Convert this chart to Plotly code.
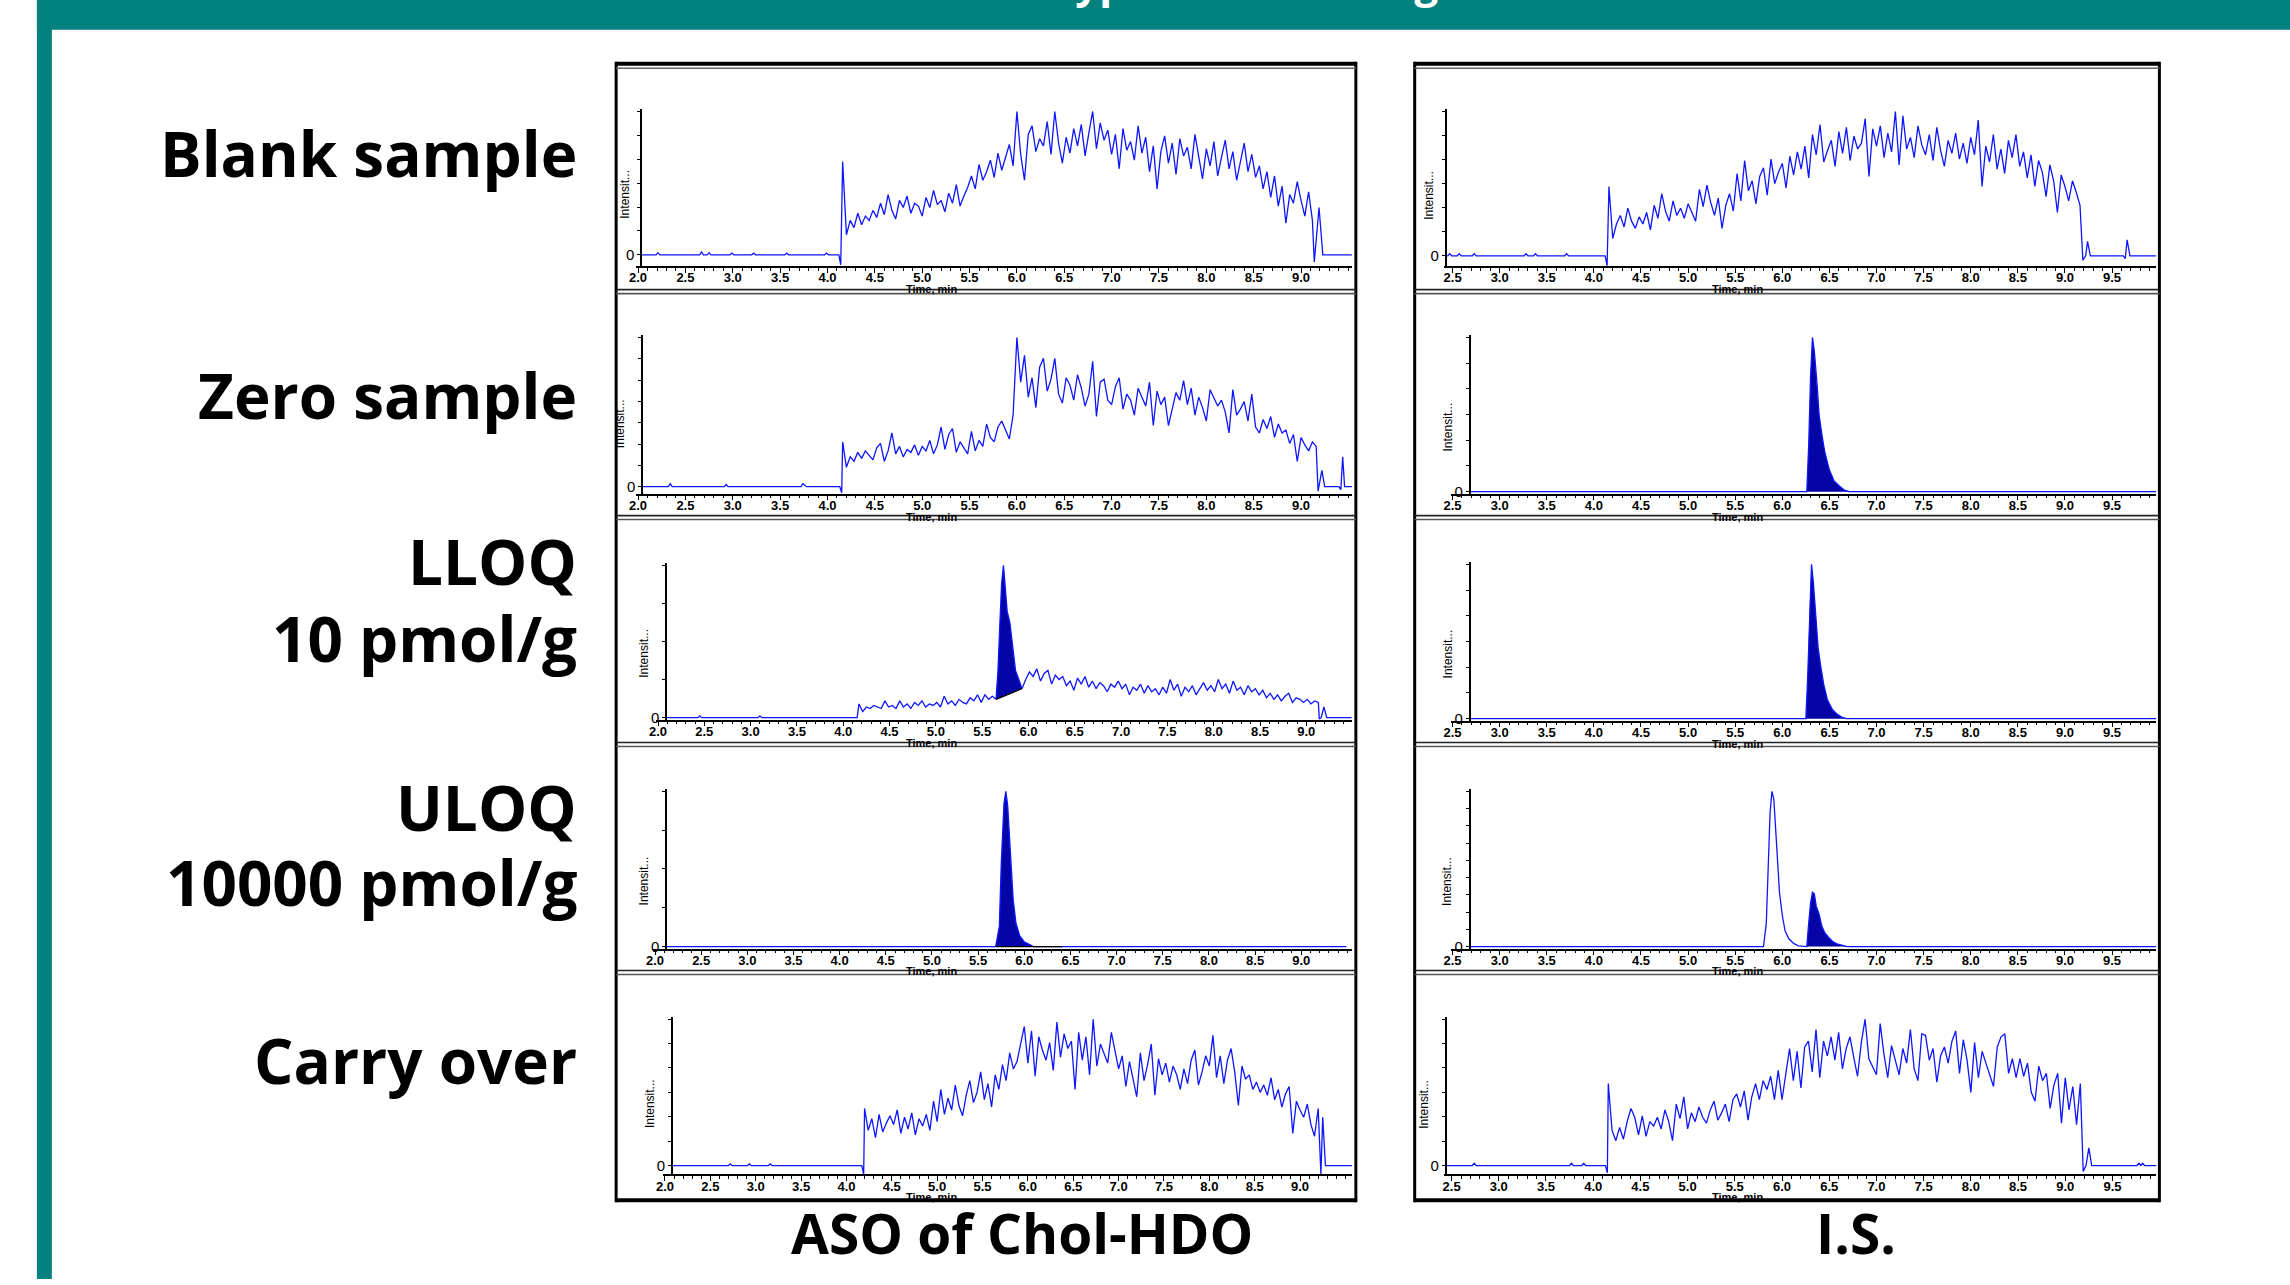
import plotly.graph_objects as go

W, H = 2290, 1285
DT = 0.04  # acquisition interval of the noisy traces (min)

# ---------------- data: time (min), intensity (% of panel full scale) ----------------
# Row 1 - Blank sample, ASO
A1_base_t = [2.03, 2.19, 2.21, 2.23, 2.65, 2.67, 2.69, 2.73, 2.75, 2.77, 2.97, 2.99, 3.01,
             3.20, 3.22, 3.24, 3.55, 3.57, 3.59, 3.97, 3.99, 4.01, 4.12, 4.14]
A1_base_y = [0, 0, 1.5, 0, 0, 2, 0, 0, 1.5, 0, 0, 1.2, 0, 0, 1.2, 0, 0, 1.2, 0, 0, 1.2, 0, 0, -7]
A1_t0 = 4.16
A1_vals = [65, 14, 24, 19, 29, 21, 27, 24, 31,
           26, 36, 28, 42, 31, 25, 38, 33, 41, 29, 36, 34,
           27, 40, 33, 45, 35, 38, 30, 43, 36, 49, 34, 41, 47,
           55, 46, 63, 52, 58, 66, 54, 71, 59, 68, 77, 62,
           100, 70, 52, 84, 90, 72, 81, 76, 93, 70, 100, 78, 64,
           82, 71, 88, 76, 91, 69, 85, 100, 74, 92, 80, 87,
           70, 84, 60, 88, 73, 79, 66, 90, 71, 82, 58, 76, 46,
           72, 83, 64, 78, 56, 81, 69, 75, 60, 84, 67, 53,
           74, 62, 79, 55, 68, 80, 60, 72, 52, 66, 78, 58, 70,
           54, 62, 46, 58, 40, 55, 34, 48, 22, 42, 36, 51,
           38, 27, 44, 24]
A1_tail_t = [9.14, 9.19, 9.23, 9.54]
A1_tail_y = [-5, 33, 0, 0]

# Row 1 - Blank sample, I.S.
B1_base_t = [2.43, 2.45, 2.47, 2.49, 2.55, 2.57, 2.59, 2.71, 2.73, 2.75, 3.26, 3.28, 3.30,
             3.36, 3.38, 3.40, 3.69, 3.71, 3.73, 4.12, 4.14]
B1_base_y = [0, 0, 1.5, 0, 0, 1.5, 0, 0, 1.5, 0, 0, 1.5, 0, 0, 1.5, 0, 0, 1.5, 0, 0, -7]
B1_t0 = 4.16
B1_vals = [48, 12, 22, 28, 20, 33, 24, 19, 27,
           22, 30, 18, 35, 26, 43, 31, 24, 38, 28, 33, 26,
           36, 30, 24, 46, 34, 49, 37, 28, 40, 19, 35, 43, 31,
           57, 38, 66, 45, 52, 36, 55, 61, 42, 67, 50, 58,
           64, 47, 69, 56, 72, 60, 76, 54, 84, 70, 91, 65, 73,
           80, 62, 86, 71, 89, 66, 83, 74, 78, 95, 55, 88,
           76, 90, 68, 85, 72, 100, 63, 97, 74, 82, 68, 90, 77,
           70, 84, 66, 89, 73, 62, 80, 71, 85, 67, 78, 64,
           82, 70, 94, 48, 76, 65, 84, 60, 74, 57, 80, 68, 84,
           62, 72, 54, 70, 48, 66, 58, 41, 63, 52, 30, 56,
           48, 38, 52, 44, 35]
B1_tail_t = [9.19, 9.22, 9.24, 9.27, 9.62, 9.64, 9.66, 9.69, 9.97]
B1_tail_y = [-3, 0, 10, 0, 0, -2, 11, 0, 0]

# Row 2 - Zero sample, ASO
A2_base_t = [2.03, 2.32, 2.34, 2.36, 2.91, 2.93, 2.95, 3.72, 3.74, 3.76, 3.78, 4.13, 4.15]
A2_base_y = [0, 0, 2, 0, 0, 1.5, 0, 0, 2, 1, 0, 0, -4]
A2_t0 = 4.16
A2_vals = [30, 13, 20, 17, 23, 19, 24, 21, 18,
           26, 29, 17, 24, 36, 22, 27, 20, 25, 23, 28, 21,
           27, 24, 31, 22, 28, 40, 25, 35, 39, 23, 30, 26, 22,
           37, 24, 31, 27, 42, 33, 30, 40, 44, 38, 32, 48,
           100, 70, 88, 60, 73, 53, 80, 86, 64, 72, 86, 62, 56,
           73, 68, 58, 75, 66, 54, 62, 84, 47, 70, 72, 58,
           55, 67, 73, 52, 62, 58, 48, 66, 60, 54, 70, 41, 64,
           55, 60, 41, 52, 63, 58, 71, 55, 66, 48, 60, 53,
           44, 65, 60, 54, 58, 50, 36, 65, 48, 52, 57, 44, 62,
           40, 36, 45, 39, 47, 33, 42, 36, 38, 29, 35, 17,
           33, 28, 24, 30, 27]
A2_tail_t = [9.18, 9.22, 9.25, 9.40, 9.42, 9.44, 9.46, 9.54]
A2_tail_y = [-3, 11, 0, 0, -2, 20, 0, 0]

# Row 2 - Zero sample, I.S. (single peak)
B2_t = [2.68, 6.26, 6.28, 6.30, 6.32, 6.34, 6.37, 6.39, 6.42, 6.45, 6.50, 6.55, 6.60, 6.66, 6.71, 9.97]
B2_y = [0, 0, 30, 75, 100, 91, 69, 50, 37, 26, 14, 7, 4, 1, 0, 0]
B2_peak_t = [6.26, 6.28, 6.30, 6.32, 6.34, 6.37, 6.39, 6.42, 6.45, 6.50, 6.55, 6.60, 6.66, 6.71]
B2_peak_y = [0, 30, 75, 100, 91, 69, 50, 37, 26, 14, 7, 4, 1, 0]

# Row 3 - LLOQ 10 pmol/g, ASO
A3_base_t = [2.09, 2.43, 2.45, 2.47, 3.08, 3.10, 3.12, 4.15]
A3_base_y = [0, 0, 1.2, 0, 0, 1.2, 0, 0]
A3_t0 = 4.17
A3_vals_pre = [9, 4, 7, 6, 8, 7, 6, 11, 7,
               8, 6, 11, 7, 9, 6, 10, 8, 11, 7, 9, 8,
               10, 7, 14, 9, 11, 8, 12, 10, 9, 13, 11, 15, 10,
               15, 12, 14, 12]
A3_peak_t = [5.65, 5.67, 5.69, 5.71, 5.73, 5.75, 5.77, 5.80, 5.83, 5.86, 5.89, 5.93]
A3_peak_y = [12, 30, 60, 88, 100, 86, 70, 62, 45, 31, 26, 19]
A3_integ_t = [5.65, 5.93]
A3_integ_y = [12, 19]
A3_t1 = 5.97
A3_vals_post = [25, 30, 27, 32, 24, 29, 31, 22, 28, 25, 27, 21, 24,
                18, 26, 22, 27, 20, 24, 19, 23, 21, 17, 22, 20,
                24, 19, 22, 15, 20, 18, 22, 16, 21, 17, 19, 15, 20,
                16, 25, 18, 22, 14, 20, 17, 21, 15, 19, 23, 18,
                21, 17, 25, 19, 22, 16, 24, 18, 20, 15, 21, 17, 19,
                15, 18, 13, 16, 12, 15, 11, 14, 16, 10, 13, 12,
                10, 12, 9, 11, 10]
A3_tail_t = [9.14, 9.16, 9.19, 9.22, 9.49]
A3_tail_y = [-1, 0, 7, 0, 0]

# Row 3 - LLOQ, I.S.
B3_t = [2.68, 6.25, 6.27, 6.29, 6.31, 6.33, 6.36, 6.38, 6.41, 6.44, 6.48, 6.53, 6.58, 6.63, 6.68, 9.97]
B3_y = [0, 0, 28, 72, 100, 88, 64, 46, 33, 22, 12, 6, 3, 1, 0, 0]
B3_peak_t = [6.25, 6.27, 6.29, 6.31, 6.33, 6.36, 6.38, 6.41, 6.44, 6.48, 6.53, 6.58, 6.63, 6.68]
B3_peak_y = [0, 28, 72, 100, 88, 64, 46, 33, 22, 12, 6, 3, 1, 0]

# Row 4 - ULOQ 10000 pmol/g, ASO
A4_t = [2.09, 5.69, 5.73, 5.75, 5.78, 5.80, 5.82, 5.85, 5.88, 5.91, 5.95, 6.00, 6.06, 6.10, 9.49]
A4_y = [0, 0, 13, 52, 92, 100, 91, 58, 30, 15, 7, 3, 1, 0, 0]
A4_peak_t = [5.69, 5.73, 5.75, 5.78, 5.80, 5.82, 5.85, 5.88, 5.91, 5.95, 6.00, 6.06, 6.10]
A4_peak_y = [0, 13, 52, 92, 100, 91, 58, 30, 15, 7, 3, 1, 0]
A4_integ_t = [5.69, 6.41]
A4_integ_y = [0, 0]

# Row 4 - ULOQ, I.S. (ASO cross-signal peak + I.S. peak)
B4_t = [2.68, 5.80, 5.83, 5.85, 5.87, 5.89, 5.91, 5.93, 5.95, 5.97, 6.00, 6.03, 6.07, 6.12, 6.17, 6.22,
        6.26, 6.28, 6.30, 6.32, 6.34, 6.36, 6.39, 6.42, 6.45, 6.49, 6.54, 6.59, 6.64, 6.69, 9.97]
B4_y = [0, 0, 15, 50, 86, 100, 95, 75, 52, 35, 20, 10, 5, 2, 0.5, 0,
        0, 15, 28, 35, 34, 26, 21, 13, 9, 6, 3, 1.5, 0.5, 0, 0]
B4_peak_t = [6.26, 6.28, 6.30, 6.32, 6.34, 6.36, 6.39, 6.42, 6.45, 6.49, 6.54, 6.59, 6.64, 6.69]
B4_peak_y = [0, 15, 28, 35, 34, 26, 21, 13, 9, 6, 3, 1.5, 0.5, 0]

# Row 5 - Carry over, ASO
A5_base_t = [2.08, 2.70, 2.72, 2.74, 2.91, 2.93, 2.95, 3.14, 3.16, 3.18, 4.17, 4.19]
A5_base_y = [0, 0, 1.2, 0, 0, 1.2, 0, 0, 1.2, 0, 0, -6]
A5_t0 = 4.20
A5_vals = [39, 24, 32, 19, 35, 23, 29, 34,
           28, 38, 22, 33, 25, 36, 21, 32, 27, 35, 24, 44,
           30, 52, 35, 46, 38, 55, 41, 34, 48, 58, 43, 50, 64,
           45, 56, 40, 62, 52, 69, 58, 77, 66, 71, 82, 95,
           70, 92, 61, 88, 79, 72, 84, 65, 98, 74, 90, 80, 85,
           52, 91, 72, 88, 62, 100, 68, 83, 77, 70, 91, 78,
           66, 75, 54, 71, 60, 47, 77, 58, 69, 83, 48, 73, 62,
           70, 57, 68, 62, 52, 66, 56, 72, 79, 55, 64, 75,
           68, 89, 60, 75, 56, 72, 80, 64, 41, 68, 59, 62, 52,
           57, 50, 55, 48, 60, 45, 52, 40, 49, 54, 22, 44,
           38, 33, 42, 28, 20, 39]
A5_tail_t = [9.23, 9.25, 9.28, 9.60]
A5_tail_y = [-6, 33, 0, 0]

# Row 5 - Carry over, I.S.
B5_base_t = [2.43, 2.72, 2.74, 2.76, 3.75, 3.77, 3.79, 3.88, 3.90, 3.92, 4.13, 4.15]
B5_base_y = [0, 0, 1.5, 0, 0, 1.5, 0, 0, 1.5, 0, 0, -5]
B5_t0 = 4.16
B5_vals = [56, 24, 17, 26, 18, 30, 39, 33, 21,
           34, 20, 30, 27, 33, 25, 38, 30, 17, 42, 32, 47,
           25, 36, 30, 40, 33, 29, 38, 44, 31, 36, 42, 30, 45,
           49, 40, 51, 31, 47, 56, 45, 58, 52, 61, 45, 65,
           45, 62, 80, 58, 78, 53, 81, 85, 64, 93, 60, 85, 75,
           88, 72, 91, 66, 80, 88, 74, 61, 84, 100, 73, 68,
           62, 97, 76, 60, 82, 72, 62, 80, 70, 93, 66, 58, 90,
           89, 72, 80, 57, 75, 81, 70, 85, 92, 63, 86, 72,
           50, 84, 60, 78, 70, 62, 54, 81, 88, 90, 63, 73, 60,
           73, 61, 70, 50, 44, 68, 58, 63, 39, 55, 63, 29,
           60, 38, 54, 28, 56]
B5_tail_t = [9.19, 9.22, 9.25, 9.28, 9.76, 9.78, 9.80, 9.82, 9.84, 9.97]
B5_tail_y = [-4, 0, 12, 0, 0, 1.5, 0, 1.5, 0, 0]

row_labels = [["Blank sample"], ["Zero sample"], ["LLOQ", "10 pmol/g"],
              ["ULOQ", "10000 pmol/g"], ["Carry over"]]
col_labels = ["ASO of Chol-HDO", "I.S."]
left_ticks = [2.0, 2.5, 3.0, 3.5, 4.0, 4.5, 5.0, 5.5, 6.0, 6.5, 7.0, 7.5, 8.0, 8.5, 9.0]
right_ticks = [2.5, 3.0, 3.5, 4.0, 4.5, 5.0, 5.5, 6.0, 6.5, 7.0, 7.5, 8.0, 8.5, 9.0, 9.5]
title_text = "Typical chromatograms"


# ---------------- helpers ----------------
def grid(t0, vals):
    return [round(t0 + i * DT, 3) for i in range(len(vals))], list(vals)


def trace_xy(base_t, base_y, t0, vals, tail_t, tail_y):
    gt, gy = grid(t0, vals)
    return base_t + gt + tail_t, base_y + gy + tail_y


def px(x):
    return x / W


def py(y):
    return 1 - y / H


LINE = "#0d16ff"
FILL = "#0505a6"
TEAL = "#02817f"

# panel layout in screen px: x0 (y-axis), x1, y_top(100 %), y_base(0 %), y_axis, ref time, ref px, px/min, y intervals
panels = [
    dict(x0=636, x1=1349, yt=112, yb=256, ya=267, tr=2.0, xr=633, ppm=95.0, ny=6, col=0),
    dict(x0=1443, x1=2156, yt=112, yb=257, ya=267, tr=2.5, xr=1450, ppm=94.5, ny=6, col=1),
    dict(x0=637, x1=1349, yt=339, yb=489, ya=496, tr=2.0, xr=633, ppm=95.0, ny=7, col=0),
    dict(x0=1467, x1=2156, yt=339, yb=494, ya=496, tr=2.5, xr=1450, ppm=94.5, ny=6, col=1),
    dict(x0=661, x1=1349, yt=568, yb=721, ya=723, tr=2.0, xr=653, ppm=92.9, ny=4, col=0),
    dict(x0=1467, x1=2156, yt=567, yb=722, ya=724, tr=2.5, xr=1450, ppm=94.5, ny=6, col=1),
    dict(x0=661, x1=1349, yt=795, yb=951, ya=953, tr=2.0, xr=650, ppm=92.6, ny=4, col=0),
    dict(x0=1467, x1=2156, yt=795, yb=951, ya=953, tr=2.5, xr=1450, ppm=94.5, ny=9, col=1),
    dict(x0=667, x1=1349, yt=1024, yb=1171, ya=1180, tr=2.0, xr=660, ppm=91.0, ny=6, col=0),
    dict(x0=1443, x1=2156, yt=1024, yb=1171, ya=1180, tr=2.5, xr=1449, ppm=94.7, ny=6, col=1),
]

fig = go.Figure()


def add(i, x, y, **kw):
    n = "" if i == 0 else str(i + 1)
    fig.add_trace(go.Scatter(x=x, y=y, mode="lines", xaxis="x" + n, yaxis="y" + n,
                             hoverinfo="skip", showlegend=False, **kw))


mline = dict(color=LINE, width=1.3)

# row 1
x, y = trace_xy(A1_base_t, A1_base_y, A1_t0, A1_vals, A1_tail_t, A1_tail_y)
add(0, x, y, line=mline)
x, y = trace_xy(B1_base_t, B1_base_y, B1_t0, B1_vals, B1_tail_t, B1_tail_y)
add(1, x, y, line=mline)
# row 2
x, y = trace_xy(A2_base_t, A2_base_y, A2_t0, A2_vals, A2_tail_t, A2_tail_y)
add(2, x, y, line=mline)
add(3, B2_peak_t, B2_peak_y, line=dict(width=0, color=FILL), fill="tozeroy", fillcolor=FILL)
add(3, B2_t, B2_y, line=mline)
# row 3
pre_t, pre_y = grid(A3_t0, A3_vals_pre)
post_t, post_y = grid(A3_t1, A3_vals_post)
add(4, A3_integ_t, A3_integ_y, line=dict(width=0, color="black"))
add(4, A3_peak_t, A3_peak_y, line=dict(width=0, color=FILL), fill="tonexty", fillcolor=FILL)
add(4, A3_base_t + pre_t + A3_peak_t[1:] + post_t + A3_tail_t,
    A3_base_y + pre_y + A3_peak_y[1:] + post_y + A3_tail_y, line=mline)
add(4, A3_integ_t, A3_integ_y, line=dict(width=1.3, color="black"))
add(5, B3_peak_t, B3_peak_y, line=dict(width=0, color=FILL), fill="tozeroy", fillcolor=FILL)
add(5, B3_t, B3_y, line=mline)
# row 4
add(6, A4_peak_t, A4_peak_y, line=dict(width=0, color=FILL), fill="tozeroy", fillcolor=FILL)
add(6, A4_t, A4_y, line=mline)
add(6, A4_integ_t, A4_integ_y, line=dict(width=1.3, color="black"))
add(7, B4_peak_t, B4_peak_y, line=dict(width=0, color=FILL), fill="tozeroy", fillcolor=FILL)
add(7, B4_t, B4_y, line=mline)
# row 5
x, y = trace_xy(A5_base_t, A5_base_y, A5_t0, A5_vals, A5_tail_t, A5_tail_y)
add(8, x, y, line=mline)
x, y = trace_xy(B5_base_t, B5_base_y, B5_t0, B5_vals, B5_tail_t, B5_tail_y)
add(9, x, y, line=mline)

layout = dict(width=W, height=H, margin=dict(l=0, r=0, t=0, b=0),
              paper_bgcolor="white", plot_bgcolor="rgba(0,0,0,0)", showlegend=False)

annotations = []
tick_font = dict(family="Liberation Sans", size=13, color="black", weight="bold")
for i, p in enumerate(panels):
    n = "" if i == 0 else str(i + 1)
    ppp = 100.0 / (p["yb"] - p["yt"])
    t_y = p["tr"] + (p["x0"] - p["xr"]) / p["ppm"]      # time at the y-axis line
    t_hi = p["tr"] + (p["x1"] - p["xr"]) / p["ppm"]
    ticks = left_ticks if p["col"] == 0 else right_ticks
    ticks = [t for t in ticks if t_y - 0.3 <= t <= t_hi]
    t_lo = min(t_y, ticks[0]) - 0.02
    xd0 = p["xr"] + (t_lo - p["tr"]) * p["ppm"]
    layout["xaxis" + n] = dict(
        domain=[px(xd0), px(p["x1"])], anchor="y" + n, range=[t_lo, t_hi],
        showline=True, linecolor="black", linewidth=1.5, showgrid=False, zeroline=False,
        ticks="outside", ticklen=5, tickwidth=1.3, tickcolor="black",
        tickmode="array", tickvals=ticks, ticktext=["%.1f" % t for t in ticks],
        tickfont=tick_font, ticklabelstandoff=-6,
        minor=dict(tickmode="linear", tick0=0, dtick=0.1, ticks="outside", ticklen=3,
                   tickwidth=1, tickcolor="black"),
        fixedrange=True)
    yv = [100.0 * k / p["ny"] for k in range(p["ny"] + 1)]
    layout["yaxis" + n] = dict(
        domain=[py(p["ya"]), py(p["yt"] - 2)], anchor="free", position=px(p["x0"]),
        range=[-(p["ya"] - p["yb"]) * ppp, 100 + 2 * ppp],
        showline=True, linecolor="black", linewidth=1.5, showgrid=False, zeroline=False,
        ticks="outside", ticklen=3, tickwidth=1, tickcolor="black",
        tickmode="array", tickvals=yv, ticktext=["0"] + [""] * p["ny"],
        tickfont=dict(family="Liberation Sans", size=15, color="black"), fixedrange=True)
    # axis titles
    xt = 927 if p["col"] == 0 else 1736
    annotations.append(dict(x=px(xt), y=py(p["ya"] + 23), xref="paper", yref="paper",
                            text="Time, min", showarrow=False, xanchor="center", yanchor="middle",
                            font=dict(family="Liberation Sans", size=11, color="black", weight="bold")))
    off = 16 if i in (0, 1) else 22
    annotations.append(dict(x=px(p["x0"] - off), y=py(p["yt"] + 0.58 * (p["yb"] - p["yt"])),
                            xref="paper", yref="paper", text="Intensit...", textangle=-90,
                            showarrow=False, xanchor="center", yanchor="middle",
                            font=dict(family="Liberation Sans", size=12, color="black")))

# row / column labels
lab_font = dict(family="Open Sans", size=62, color="black", weight="bold")
col_font = dict(family="Open Sans", size=55, color="black", weight="bold")
label_y = [[154], [397], [564, 641], [811, 886], [1065]]
for lines, ys in zip(row_labels, label_y):
    for txt, yy in zip(lines, ys):
        annotations.append(dict(x=px(574), y=py(yy), xref="paper", yref="paper", text=txt,
                                showarrow=False, xanchor="right", yanchor="middle", font=lab_font))
for txt, xx in zip(col_labels, [1018, 1855]):
    annotations.append(dict(x=px(xx), y=py(1238), xref="paper", yref="paper", text=txt,
                            showarrow=False, xanchor="center", yanchor="middle", font=col_font))
# slide title (mostly outside the visible area, only its lower part shows)
annotations.append(dict(x=px(1295), y=1, xref="paper", yref="paper", text=title_text,
                        showarrow=False, xanchor="center", yanchor="bottom", yshift=-12,
                        font=dict(family="Open Sans", size=42, color="white", weight="bold")))
layout["annotations"] = annotations

shapes = []
# teal slide decorations
shapes.append(dict(type="rect", xref="paper", yref="paper", x0=px(30), x1=1, y0=py(30), y1=1,
                   fillcolor=TEAL, line=dict(width=0), layer="below"))
shapes.append(dict(type="rect", xref="paper", yref="paper", x0=px(30), x1=px(45), y0=0, y1=1,
                   fillcolor=TEAL, line=dict(width=0), layer="below"))
# chromatogram frames
for (cx0, cx1) in [(611, 1353), (1412, 2159)]:
    for xx in (cx0, cx1):
        shapes.append(dict(type="line", xref="paper", yref="paper", x0=px(xx), x1=px(xx),
                           y0=py(1208), y1=py(62), line=dict(color="black", width=3)))
    shapes.append(dict(type="line", xref="paper", yref="paper", x0=px(cx0), x1=px(cx1),
                       y0=py(64), y1=py(64), line=dict(color="black", width=4)))
    shapes.append(dict(type="line", xref="paper", yref="paper", x0=px(cx0), x1=px(cx1),
                       y0=py(68.5), y1=py(68.5), line=dict(color="#666666", width=1.5)))
    shapes.append(dict(type="line", xref="paper", yref="paper", x0=px(cx0), x1=px(cx1),
                       y0=py(1206), y1=py(1206), line=dict(color="black", width=4)))
    for sy in (293, 520, 748, 977):
        shapes.append(dict(type="line", xref="paper", yref="paper", x0=px(cx0), x1=px(cx1),
                           y0=py(sy - 2), y1=py(sy - 2), line=dict(color="#222222", width=1.6)))
        shapes.append(dict(type="line", xref="paper", yref="paper", x0=px(cx0), x1=px(cx1),
                           y0=py(sy + 2), y1=py(sy + 2), line=dict(color="#555555", width=1.6)))
layout["shapes"] = shapes

fig.update_layout(**layout)
fig.write_html("out.html", config={"displayModeBar": False},
               post_script="document.body.style.margin='0';document.body.style.overflow='hidden';")
